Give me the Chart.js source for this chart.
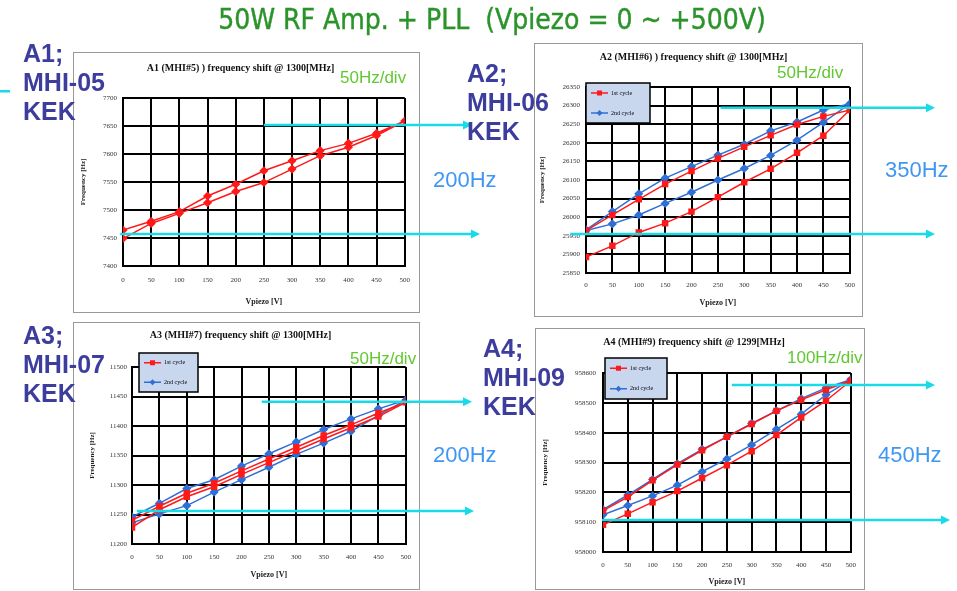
<!DOCTYPE html>
<html lang="en">
<head>
  <meta charset="UTF-8">
  <title>50W RF Amp. + PLL frequency shift</title>
  <script src="https://cdn.jsdelivr.net/npm/chart.js"></script>
  <style>
    body { margin: 0; width: 957px; height: 591px; background: #fff; position: relative; overflow: hidden; font-family: "Liberation Sans", Arial, sans-serif; }
    canvas.chart { position: absolute; }
    .frame { position: absolute; box-sizing: border-box; border: 1.5px solid #999; pointer-events: none; }
    #slideTitle { position: absolute; left: 0; width: 984px; top: 3px; text-align: center; font-family: "Liberation Sans Narrow", "DejaVu Sans Condensed", sans-serif; font-size: 28px; color: #2a942a; -webkit-text-stroke: 0.4px #2a942a; }
    .tag { position: absolute; font-size: 25px; font-weight: bold; line-height: 29px; color: #3d3d9e; }
    .perdiv { position: absolute; font-size: 17px; color: #62c832; line-height: 20px; }
    .span { position: absolute; font-size: 22px; color: #3f97f2; line-height: 24px; }
    #overlay { position: absolute; left: 0; top: 0; pointer-events: none; }
  </style>
</head>
<body>
  <canvas class="chart" id="c1" width="347" height="261" style="left:73px;top:52px"></canvas>
  <canvas class="chart" id="c2" width="329" height="274" style="left:534px;top:43px"></canvas>
  <canvas class="chart" id="c3" width="347" height="268" style="left:73px;top:322px"></canvas>
  <canvas class="chart" id="c4" width="330" height="262" style="left:535px;top:328px"></canvas>
  <div class="frame" style="left:73px;top:52px;width:347px;height:261px"></div>
  <div class="frame" style="left:534px;top:43px;width:329px;height:274px"></div>
  <div class="frame" style="left:73px;top:322px;width:347px;height:268px"></div>
  <div class="frame" style="left:535px;top:328px;width:330px;height:262px"></div>

  <canvas id="overlay" width="957" height="591"></canvas>

  <div id="slideTitle">50W RF Amp. + PLL&nbsp; (Vpiezo = 0 ~ +500V)</div>

  <div class="tag" style="left:23px;top:39px">A1;<br>MHI-05<br>KEK</div>
  <div class="tag" style="left:467px;top:59px">A2;<br>MHI-06<br>KEK</div>
  <div class="tag" style="left:23px;top:321px">A3;<br>MHI-07<br>KEK</div>
  <div class="tag" style="left:483px;top:334px">A4;<br>MHI-09<br>KEK</div>

  <div class="perdiv" style="left:340px;top:68px">50Hz/div</div>
  <div class="perdiv" style="left:777px;top:63px">50Hz/div</div>
  <div class="perdiv" style="left:350px;top:349px">50Hz/div</div>
  <div class="perdiv" style="left:787px;top:348px">100Hz/div</div>

  <div class="span" style="left:433px;top:168px">200Hz</div>
  <div class="span" style="left:885px;top:158px">350Hz</div>
  <div class="span" style="left:433px;top:443px">200Hz</div>
  <div class="span" style="left:878px;top:443px">450Hz</div>

  <script>
    // piezo voltage sweep: up 0 -> 500 V, then back down to 0 V
    const volts = [0, 50, 100, 150, 200, 250, 300, 350, 400, 450, 500,
                   450, 400, 350, 300, 250, 200, 150, 100, 50, 0];

    // A1 (MHI#5), single cycle [Hz]
    const a1Cycle1 = [7449, 7476, 7494, 7513, 7533, 7549, 7573, 7597, 7612, 7633, 7659,
                      7637, 7619, 7606, 7588, 7570, 7546, 7525, 7497, 7480, 7464];
    // A2 (MHI#6)
    const a2Cycle1 = [25893, 25923, 25959, 25984, 26015, 26054, 26094, 26130, 26173, 26219, 26288,
                      26271, 26249, 26220, 26189, 26158, 26124, 26089, 26048, 26006, 25964];
    const a2Cycle2 = [25964, 25982, 26006, 26037, 26067, 26100, 26131, 26166, 26207, 26255, 26305,
                      26288, 26256, 26232, 26196, 26167, 26136, 26105, 26063, 26015, 25966];
    // A3 (MHI#7)
    const a3Cycle1 = [11228, 11258, 11280, 11297, 11318, 11338, 11358, 11378, 11397, 11416, 11440,
                      11422, 11402, 11384, 11364, 11344, 11324, 11303, 11286, 11264, 11240];
    const a3Cycle2 = [11236, 11251, 11265, 11288, 11309, 11330, 11352, 11371, 11391, 11418, 11444,
                      11429, 11412, 11394, 11373, 11353, 11332, 11309, 11294, 11269, 11246];
    // A4 (MHI#9)
    const a4Cycle1 = [958091, 958128, 958167, 958204, 958248, 958291, 958338, 958392, 958451, 958507, 958574,
                      958544, 958510, 958473, 958429, 958386, 958341, 958293, 958240, 958184, 958139];
    const a4Cycle2 = [958125, 958156, 958188, 958224, 958269, 958312, 958359, 958411, 958462, 958527, 958578,
                      958550, 958514, 958473, 958431, 958386, 958344, 958296, 958243, 958191, 958142];

    const seriesNames = ['1st cycle', '2nd cycle'];

    // y axis ranges [min, max, step]
    const a1Range = [7400, 7700, 50];
    const a2Range = [25850, 26350, 50];
    const a3Range = [11200, 11500, 50];
    const a4Range = [958000, 958600, 100];

    // cyan marker lines: level [Hz], start [V]
    const a1MarkHz = [7652, 7457], a1MarkFrom = [250, -5];
    const a2MarkHz = [26294, 25955], a2MarkFrom = [255, -30];
    const a3MarkHz = [11441, 11256], a3MarkFrom = [237, 9];
    const a4MarkHz = [958560, 958107], a4MarkFrom = [260, -2];

    const RED = '#ff1a1a', BLUE = '#2f6fd6';
    const serif = '"Liberation Serif", "Times New Roman", serif';

    function pts(ys) { return volts.map((v, i) => ({ x: v, y: ys[i] })); }

    // legend drawn as a filled box sitting on the plot, like the Excel original
    const boxLegend = {
      id: 'boxLegend',
      afterDraw(chart, args, opts) {
        if (!opts.show) return;
        const ctx = chart.ctx, a = chart.chartArea;
        const x = a.left + opts.x, y = a.top + opts.y;
        ctx.save();
        ctx.fillStyle = '#c8d6ee';
        ctx.fillRect(x, y, opts.w, opts.h);
        ctx.strokeStyle = '#000';
        ctx.lineWidth = 1.5;
        ctx.strokeRect(x, y, opts.w, opts.h);
        chart.data.datasets.forEach((ds, i) => {
          const ry = y + opts.h * (2 * i + 1) / 4;
          ctx.strokeStyle = ds.borderColor;
          ctx.lineWidth = 1.5;
          ctx.beginPath(); ctx.moveTo(x + 5, ry); ctx.lineTo(x + 22, ry); ctx.stroke();
          ctx.fillStyle = ds.borderColor;
          ctx.beginPath();
          if (ds.pointStyle === 'rect') ctx.rect(x + 11, ry - 2.5, 5, 5);
          else { ctx.moveTo(x + 13.5, ry - 3); ctx.lineTo(x + 16.5, ry); ctx.lineTo(x + 13.5, ry + 3); ctx.lineTo(x + 10.5, ry); }
          ctx.fill();
          ctx.fillStyle = '#000';
          ctx.font = '6px ' + serif;
          ctx.textBaseline = 'middle';
          ctx.fillText(ds.label, x + 25, ry);
        });
        ctx.restore();
      }
    };

    function makeChart(id, cfg) {
      const datasets = cfg.series.map((s, i) => ({
        label: seriesNames[i],
        data: pts(s),
        borderColor: i === 0 ? RED : BLUE,
        backgroundColor: i === 0 ? RED : BLUE,
        borderWidth: 1.5,
        pointStyle: i === 0 ? cfg.firstStyle : 'rectRot',
        pointRadius: 3.5,
        showLine: true,
        tension: 0
      }));
      return new Chart(document.getElementById(id), {
        type: 'scatter',
        data: { datasets },
        plugins: [boxLegend],
        options: {
          responsive: false,
          animation: false,
          layout: { padding: { left: 0, top: 0, bottom: 0, right: cfg.padR } },
          plugins: {
            legend: { display: false },
            tooltip: { enabled: false },
            title: {
              display: true, text: cfg.title, color: '#111',
              font: { family: serif, size: 10, weight: 'bold' },
              padding: { top: cfg.titleTop, bottom: cfg.titleBottom }
            },
            boxLegend: cfg.legend
          },
          scales: {
            x: {
              type: 'linear', min: 0, max: 500,
              afterFit: s => { s.height = cfg.xH; },
              border: { display: true, color: '#000', width: 2 },
              grid: { color: '#000', lineWidth: 2, drawTicks: false },
              ticks: { stepSize: 50, maxRotation: 0, autoSkip: false, padding: cfg.xTickPad, color: '#333',
                       font: { family: serif, size: 7 } },
              title: { display: true, text: 'Vpiezo [V]', color: '#222',
                       font: { family: serif, size: 8, weight: 'bold' }, padding: { top: 0, bottom: cfg.xTitlePad } }
            },
            y: {
              min: cfg.range[0], max: cfg.range[1],
              afterFit: s => { s.width = cfg.yW; },
              border: { display: true, color: '#000', width: 2 },
              grid: { color: '#000', lineWidth: 2, drawTicks: false },
              ticks: { stepSize: cfg.range[2], autoSkip: false, padding: cfg.yTickPad, color: '#333',
                       font: { family: serif, size: 7 }, callback: v => String(v) },
              title: { display: true, text: 'Frequency [Hz]', color: '#222',
                       font: { family: serif, size: 7, weight: 'bold' }, padding: { top: cfg.yTitlePad, bottom: 0 } }
            }
          }
        }
      });
    }

    const ch1 = makeChart('c1', {
      title: 'A1 (MHI#5) ) frequency shift @ 1300[MHz]', series: [a1Cycle1], firstStyle: 'rectRot',
      range: a1Range, yW: 50, xH: 47, padR: 12, titleTop: 10, titleBottom: 24,
      xTickPad: 10, xTitlePad: 6, yTickPad: 6, yTitlePad: 6, legend: { show: false }
    });
    const ch2 = makeChart('c2', {
      title: 'A2 (MHI#6) ) frequency shift @ 1300[MHz]', series: [a2Cycle1, a2Cycle2], firstStyle: 'rect',
      range: a2Range, yW: 52, xH: 44, padR: 10, titleTop: 8, titleBottom: 24,
      xTickPad: 8, xTitlePad: 9, yTickPad: 6, yTitlePad: 4, legend: { show: true, x: 0, y: -4, w: 64, h: 40 }
    });
    const ch3 = makeChart('c3', {
      title: 'A3 (MHI#7) frequency shift @ 1300[MHz]', series: [a3Cycle1, a3Cycle2], firstStyle: 'rect',
      range: a3Range, yW: 59, xH: 46, padR: 12, titleTop: 7, titleBottom: 26,
      xTickPad: 9, xTitlePad: 10, yTickPad: 5, yTitlePad: 15, legend: { show: true, x: 7, y: -14, w: 59, h: 39 }
    });
    const ch4 = makeChart('c4', {
      title: 'A4 (MHI#9) frequency shift @ 1299[MHz]', series: [a4Cycle1, a4Cycle2], firstStyle: 'rect',
      range: a4Range, yW: 68, xH: 38, padR: 12, titleTop: 8, titleBottom: 25,
      xTickPad: 9, xTitlePad: 3, yTickPad: 7, yTitlePad: 6, legend: { show: true, x: 2, y: -15, w: 62, h: 41 }
    });

    // cyan arrows marking the frequency span, placed through each chart's scales
    const ov = document.getElementById('overlay').getContext('2d');
    function arrows(chart, hz, from, toX) {
      const c = chart.canvas;
      const ox = parseFloat(c.style.left), oy = parseFloat(c.style.top);
      hz.forEach((f, i) => {
        const y = oy + chart.scales.y.getPixelForValue(f);
        const x1 = ox + chart.scales.x.getPixelForValue(from[i]);
        const x2 = toX[i];
        ov.strokeStyle = '#19dbe8';
        ov.fillStyle = '#19dbe8';
        ov.lineWidth = 2.5;
        ov.beginPath(); ov.moveTo(x1, y); ov.lineTo(x2 - 7, y); ov.stroke();
        ov.beginPath(); ov.moveTo(x2, y); ov.lineTo(x2 - 9, y - 4.5); ov.lineTo(x2 - 9, y + 4.5); ov.closePath(); ov.fill();
      });
    }
    arrows(ch1, a1MarkHz, a1MarkFrom, [472, 480]);
    arrows(ch2, a2MarkHz, a2MarkFrom, [935, 935]);
    arrows(ch3, a3MarkHz, a3MarkFrom, [472, 474]);
    arrows(ch4, a4MarkHz, a4MarkFrom, [935, 950]);
    // stray arrow tail at the left edge of the slide
    ov.fillRect(0, 90, 10, 2.5);
  </script>
</body>
</html>
